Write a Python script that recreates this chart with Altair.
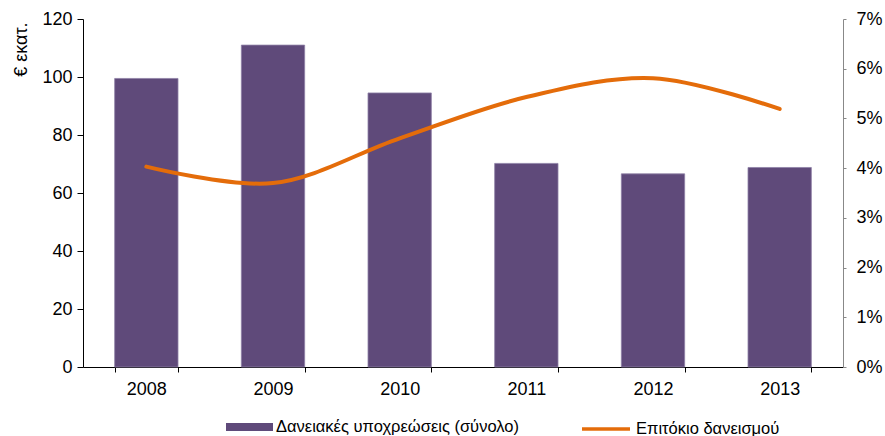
import altair as alt
import pandas as pd

years = ["2008", "2009", "2010", "2011", "2012", "2013"]
debt = [99.5, 111.0, 94.5, 70.2, 66.6, 68.8]          # € million
rate = [4.03, 3.70, 4.60, 5.43, 5.81, 5.19]           # percent

bar_name = "Δανειακές υποχρεώσεις (σύνολο)"
line_name = "Επιτόκιο δανεισμού"

df = pd.DataFrame({
    "year": years,
    "debt": debt,
    "rate": [r / 100 for r in rate],
    "bar_series": bar_name,
    "line_series": line_name,
})

FONT = "Liberation Sans Narrow, Liberation Sans, Arial"

x = alt.X(
    "year:N",
    scale=alt.Scale(paddingInner=0.5, paddingOuter=0.25),
    axis=alt.Axis(
        title=None, labelAngle=0, tickBand="extent", domainColor="#000000",
        tickColor="#000000", tickSize=5, labelPadding=8, labelFontSize=18,
        labelColor="#000000", labelFont=FONT,
    ),
)

bars = alt.Chart(df).mark_bar(stroke="#8E80A6", strokeWidth=0.8).encode(
    x=x,
    y=alt.Y(
        "debt:Q",
        scale=alt.Scale(domain=[0, 120]),
        axis=alt.Axis(
            title="€ εκατ.", values=list(range(0, 121, 20)), grid=False,
            domainColor="#000000", tickColor="#000000", tickSize=6,
            labelFontSize=18, labelColor="#000000", labelFont=FONT,
            labelPadding=5, titleFontSize=18, titleFont=FONT,
            titleFontWeight="normal", titleColor="#000000",
            titleAngle=-90, titleX=-62, titleY=3, titleAlign="right",
            titleBaseline="middle",
        ),
    ),
    color=alt.Color(
        "bar_series:N",
        scale=alt.Scale(range=["#5F4A7A"]),
        legend=alt.Legend(
            title=None, orient="none", legendX=143, legendY=384.5,
            symbolType="M-1,-0.17H1V0.17H-1Z", symbolSize=2209,
            symbolStrokeWidth=0, labelFontSize=16.5, labelFont=FONT,
            labelColor="#000000", padding=0, labelOffset=3, labelLimit=0,
        ),
    ),
)

line = alt.Chart(df).mark_line(
    interpolate="catmull-rom", strokeWidth=4, strokeCap="round"
).encode(
    x=alt.X("year:N"),
    y=alt.Y(
        "rate:Q",
        scale=alt.Scale(domain=[0, 0.07]),
        axis=alt.Axis(
            title=None, orient="right", format=".0%", grid=False,
            values=[i / 100 for i in range(0, 8)],
            domainColor="#888888", tickColor="#888888", tickSize=3,
            labelFontSize=18, labelColor="#000000", labelFont=FONT,
            labelPadding=10,
        ),
    ),
    stroke=alt.Stroke(
        "line_series:N",
        scale=alt.Scale(range=["#E46C0A"]),
        legend=alt.Legend(
            title=None, orient="none", legendX=497, legendY=384,
            symbolType="stroke", symbolSize=2304, symbolStrokeWidth=3.5,
            labelFontSize=16.5, labelFont=FONT, labelColor="#000000",
            padding=0, labelOffset=4, labelLimit=0,
        ),
    ),
)

chart = (
    alt.layer(bars, line)
    .resolve_scale(y="independent", color="independent", stroke="independent")
    .properties(
        width=760, height=348,
        autosize=alt.AutoSizeParams(type="none"),
        padding={"left": 83, "top": 19, "right": 42, "bottom": 69},
        background="#ffffff",
    )
    .configure_view(stroke=None)
)

chart.save("out.html", embed_options={"renderer": "svg", "actions": False})
